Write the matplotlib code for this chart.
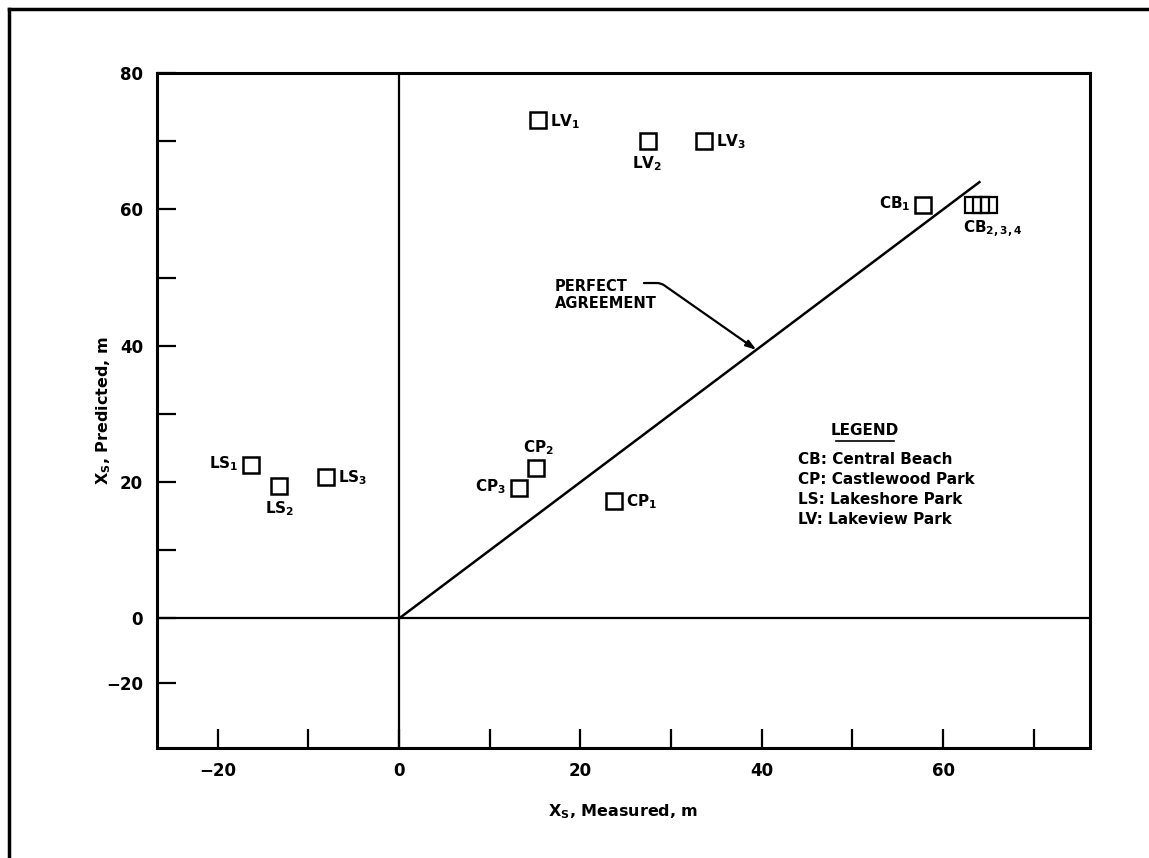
import numpy as np
import matplotlib
matplotlib.use('Agg')
import matplotlib.pyplot as plt
from matplotlib.lines import Line2D

plt.rcParams['font.family'] = 'DejaVu Sans'
plt.rcParams['font.weight'] = 'bold'
plt.rcParams['mathtext.default'] = 'regular'

# sites: measured vs predicted shoreline position
names = ['LS$_1$', 'LS$_2$', 'LS$_3$', 'CP$_1$', 'CP$_2$', 'CP$_3$',
         'LV$_1$', 'LV$_2$', 'LV$_3$', 'CB$_1$']
measured = [-16.3, -13.2, -8.1, 23.7, 15.1, 13.2, 15.3, 27.4, 33.6, 57.8]
predicted = [22.5, 19.5, 20.8, 17.3, 22.0, 19.2, 73.1, 70.1, 70.1, 60.6]

cb_name = 'CB$_{2,3,4}$'
cb_measured = [63.3, 64.2, 65.1]
cb_predicted = [60.6, 60.6, 60.6]

legend_lines = ['CB: Central Beach', 'CP: Castlewood Park',
                'LS: Lakeshore Park', 'LV: Lakeview Park']

# label placement (offset in points, alignment)
place = {
    'left': ((-9, 1), 'right', 'center'),
    'right': ((9, -1), 'left', 'center'),
    'below': ((0, -10), 'center', 'top'),
    'above': ((2, 8), 'center', 'bottom'),
}
where = ['left', 'below', 'right', 'right', 'above', 'left',
         'right', 'below', 'right', 'left']

k = 0.475  # negative part of the y axis is compressed in the original


def fwd(y):
    y = np.asarray(y, dtype=float)
    return np.where(y < 0, y * k, y)


def inv(y):
    y = np.asarray(y, dtype=float)
    return np.where(y < 0, y / k, y)


fig = plt.figure(figsize=(11.49, 8.58), dpi=100)
ax = fig.add_axes([0.1366, 0.1282, 0.8121, 0.7867])
ax.set_yscale('function', functions=(fwd, inv))
ax.set_xlim(-26.7, 76.2)
ax.set_ylim(-40, 80)

ax.axhline(0, color='black', lw=1.6)
ax.axvline(0, color='black', lw=1.6)
ax.plot([0, 64], [0, 64], color='black', lw=1.8)

ax.plot(measured, predicted, 's', ms=11.5, mfc='white', mec='black', mew=1.8)
ax.plot(cb_measured, cb_predicted, 's', ms=11.5, mfc='none', mec='black', mew=1.6)

for n, xm, yp, w in zip(names, measured, predicted, where):
    off, ha, va = place[w]
    ax.annotate(n, (xm, yp), xytext=off, textcoords='offset points',
                ha=ha, va=va, fontsize=11)
ax.annotate(cb_name, (cb_measured[0], cb_predicted[0]), xytext=(-7, -10),
            textcoords='offset points', ha='left', va='top', fontsize=11)

ax.text(17.2, 47.4, 'PERFECT\nAGREEMENT', ha='left', va='center',
        fontsize=10.5, linespacing=1.2)
ax.annotate('', xy=(39.4, 39.4), xytext=(27.0, 49.2),
            arrowprops=dict(arrowstyle='-|>,head_length=0.6,head_width=0.2',
                            color='black', lw=1.6, shrinkA=0, shrinkB=0,
                            connectionstyle='angle,angleA=0,angleB=145,rad=4'))

ax.text(51.4, 27.5, 'LEGEND', ha='center', va='center', fontsize=11)
ax.plot([48.2, 54.6], [26.0, 26.0], color='black', lw=1.2)
for i, s in enumerate(legend_lines):
    ax.text(44.0, 23.3 - 2.95 * i, s, ha='left', va='center', fontsize=11)

ax.set_xticks([-20, 0, 20, 40, 60])
ax.set_xticks([-10, 10, 30, 50, 70], minor=True)
ax.set_yticks([-20, 0, 20, 40, 60, 80])
ax.set_yticks([10, 30, 50, 70], minor=True)
ax.tick_params(which='both', direction='in', length=14, width=1.6,
               labelsize=12, pad=10, top=False, right=False)
for sp in ax.spines.values():
    sp.set_linewidth(2.2)

ax.set_xlabel('X$_S$, Measured, m', fontsize=11.5, fontweight='bold', labelpad=16)
ax.set_ylabel('X$_S$, Predicted, m', fontsize=11.5, fontweight='bold')
ax.yaxis.set_label_coords(-0.047, 0.5)

# page frame (left and top rules only)
fig.add_artist(Line2D([0.008, 0.008], [0.0, 0.99], color='black', lw=2.5))
fig.add_artist(Line2D([0.008, 1.0], [0.99, 0.99], color='black', lw=2.5))

fig.savefig('out.png', dpi=100)
